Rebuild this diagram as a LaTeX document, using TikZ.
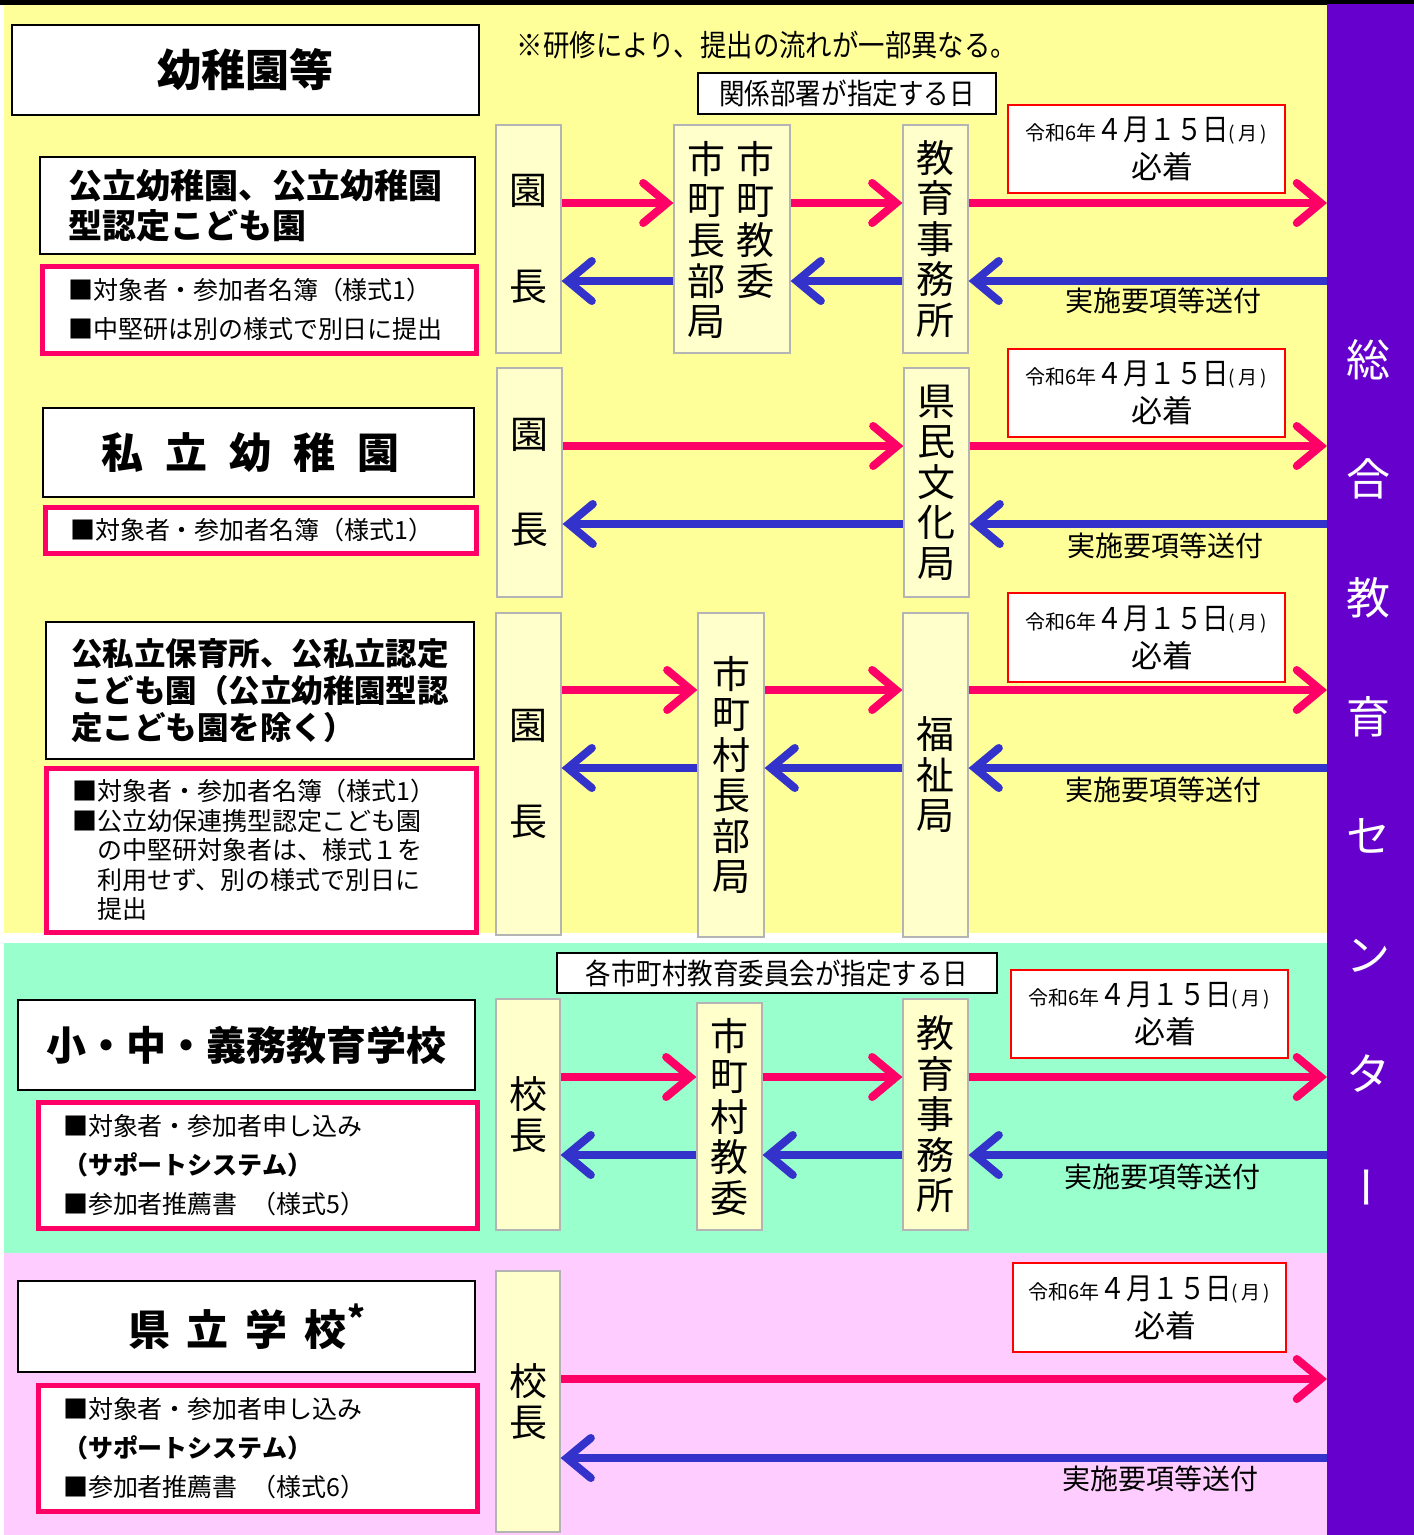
\documentclass[tikz,border=0pt]{standalone}
\usepackage{fontspec}
\usetikzlibrary{arrows.meta}
\newfontfamily\jp{Noto Sans CJK JP}
\newfontfamily\jpc[FakeStretch=0.88]{Noto Sans CJK JP}
\newcommand\fs[2]{\fontsize{#1}{#2}\selectfont}
\definecolor{ybg}{HTML}{FFFF99}
\definecolor{gbg}{HTML}{99FFCC}
\definecolor{pbg}{HTML}{FFCCFF}
\definecolor{purp}{HTML}{6600CC}
\definecolor{colfill}{HTML}{FFFFCC}
\definecolor{colline}{HTML}{B4B4B4}
\definecolor{mag}{HTML}{FF0066}
\definecolor{blu}{HTML}{3333CC}
\newcommand\datetext{{\jp\fs{20}{20}令和6年}{\jpc\fs{30}{30}４月１５日}{\jp\fs{19}{19}(\,月\,)}\\\hspace*{32pt}{\jp\fs{31}{31}必着}}
\begin{document}
\begin{tikzpicture}[x=1pt,y=-1pt,
  col/.style={draw=colline, fill=colfill, line width=1.2pt, inner sep=0pt, align=center, font=\jp\fs{38}{40.5}},
  tbox/.style={draw=black, fill=white, line width=2.5pt, inner sep=0pt},
  nbox/.style={draw=mag, fill=white, line width=5pt, inner sep=0pt, align=left, font=\jp\fs{25}{39}},
  dbox/.style={draw=red, fill=white, line width=2.2pt, inner sep=0pt, align=center, font=\jp\fs{30}{38}, minimum height=88pt},
  lbox/.style={draw=black, fill=white, line width=2.5pt, inner sep=0pt, font=\jpc\fs{29}{29}},
  redarr/.style={draw=mag, line width=8pt, -{Straight Barb[length=24pt,width=40pt,line cap=round]}},
  bluarr/.style={draw=blu, line width=8pt, -{Straight Barb[length=24pt,width=40pt,line cap=round]}},
  lab/.style={font=\jp\fs{28}{28}}
]
\useasboundingbox (0,0) rectangle (1414,1535);
% backgrounds
\fill[white] (0,0) rectangle (1414,1535);
\fill[ybg] (4,5) rectangle (1327,933);
\fill[gbg] (4,943) rectangle (1327,1253);
\fill[pbg] (4,1253) rectangle (1327,1535);
\fill[black] (0,0) rectangle (1414,5);
\node[fill=purp, minimum width=87pt, minimum height=1531pt, inner sep=0pt, outer sep=0pt] (ctr) at (1370.5,769.5) {};
\node[text=white, align=center, font=\jp\fs{44}{119}] (ctrtxt) at (1368,774) {総\\合\\教\\育\\セ\\ン\\タ\\\hspace*{12pt}\rotatebox{90}{ー}};

% row coordinates
\coordinate (r1) at (0,203); \coordinate (b1) at (0,281);
\coordinate (r2) at (0,446); \coordinate (b2) at (0,524);
\coordinate (r3) at (0,690); \coordinate (b3) at (0,768);
\coordinate (r4) at (0,1077); \coordinate (b4) at (0,1155);
\coordinate (r5) at (0,1379); \coordinate (b5) at (0,1458);

% ===== section 1 =====
\node[tbox, minimum width=467pt, minimum height=90pt, font=\jp\bfseries\fs{44}{44}] (t1) at (245.5,70) {幼稚園等};
\node[font=\jpc\fs{30}{30}] (note) at (767,45) {※研修により、提出の流れが一部異なる。};
\node[lbox, minimum width=298pt, minimum height=41pt] (kd1) at (847,93.5) {関係部署が指定する日};
\node[tbox, minimum width=435pt, minimum height=97pt, text width=379pt, align=left, font=\jp\bfseries\fs{34}{40}] (t2) at (257.5,205.5) {公立幼稚園、公立幼稚園\\型認定こども園};
\node[nbox, minimum width=434pt, minimum height=87pt, text width=382pt] (n1) at (259,309.5) {■対象者・参加者名簿（様式1）\\■中堅研は別の様式で別日に提出};
\node[col, minimum width=65pt, minimum height=228pt] (en1) at (528.5,239) {園\\[55pt]長};
\node[col, minimum width=116pt, minimum height=228pt] (sh1) at (732,239) {};
\node[font=\jp\fs{38}{40.5}, align=center, inner sep=0pt] (sh1a) at (706,240) {市\\町\\長\\部\\局};
\node[font=\jp\fs{38}{40.5}, align=center, inner sep=0pt] (sh1b) at (755,220) {市\\町\\教\\委};
\node[col, minimum width=65pt, minimum height=228pt] (kj1) at (935.5,239) {教\\育\\事\\務\\所};
\node[dbox, minimum width=277pt] (d1) at (1146.5,149) {\datetext};
\draw[redarr] (en1.east |- r1) -- (sh1.west |- r1);
\draw[redarr] (sh1.east |- r1) -- (kj1.west |- r1);
\draw[redarr] (kj1.east |- r1) -- (ctr.west |- r1);
\draw[bluarr] (sh1.west |- b1) -- (en1.east |- b1);
\draw[bluarr] (kj1.west |- b1) -- (sh1.east |- b1);
\draw[bluarr] (ctr.west |- b1) -- (kj1.east |- b1);
\node[lab] (l1) at (1163,301) {実施要項等送付};

% ===== section 2 =====
\node[tbox, minimum width=431pt, minimum height=89pt, font=\jp\bfseries\fs{42}{42}] (t3) at (258.5,452.5) {私\hspace{22pt}立\hspace{22pt}幼\hspace{22pt}稚\hspace{22pt}園\hspace*{16pt}};
\node[nbox, minimum width=431pt, minimum height=46pt, text width=381pt] (n2) at (260.5,530) {■対象者・参加者名簿（様式1）};
\node[col, minimum width=65pt, minimum height=229pt] (en2) at (529.5,482.5) {園\\[55pt]長};
\node[col, minimum width=65pt, minimum height=229pt] (kb2) at (936.5,482.5) {県\\民\\文\\化\\局};
\node[dbox, minimum width=277pt] (d2) at (1146.5,393) {\datetext};
\draw[redarr] (en2.east |- r2) -- (kb2.west |- r2);
\draw[redarr] (kb2.east |- r2) -- (ctr.west |- r2);
\draw[bluarr] (kb2.west |- b2) -- (en2.east |- b2);
\draw[bluarr] (ctr.west |- b2) -- (kb2.east |- b2);
\node[lab] (l2) at (1165,546) {実施要項等送付};

% ===== section 3 =====
\node[tbox, minimum width=428pt, minimum height=137pt, text width=378pt, align=left, font=\jp\bfseries\fs{31.5}{37}] (t4) at (260,690.5) {公私立保育所、公私立認定\\こども園（公立幼稚園型認\\定こども園を除く）};
\node[nbox, minimum width=430pt, minimum height=164pt, text width=378pt, font=\jp\fs{25}{29.5}] (n3) at (261,850) {■対象者・参加者名簿（様式1）\\■公立幼保連携型認定こども園\\\hspace*{25pt}の中堅研対象者は、様式１を\\\hspace*{25pt}利用せず、別の様式で別日に\\\hspace*{25pt}提出};
\node[col, minimum width=65pt, minimum height=322pt] (en3) at (528.5,774) {園\\[55pt]長};
\node[col, minimum width=66pt, minimum height=324pt] (sc3) at (731,775) {市\\町\\村\\長\\部\\局};
\node[col, minimum width=65pt, minimum height=324pt] (fk3) at (935.5,775) {福\\祉\\局};
\node[dbox, minimum width=277pt, minimum height=89pt] (d3) at (1146.5,637.5) {\datetext};
\draw[redarr] (en3.east |- r3) -- (sc3.west |- r3);
\draw[redarr] (sc3.east |- r3) -- (fk3.west |- r3);
\draw[redarr] (fk3.east |- r3) -- (ctr.west |- r3);
\draw[bluarr] (sc3.west |- b3) -- (en3.east |- b3);
\draw[bluarr] (fk3.west |- b3) -- (sc3.east |- b3);
\draw[bluarr] (ctr.west |- b3) -- (fk3.east |- b3);
\node[lab] (l3) at (1163,790) {実施要項等送付};

% ===== section 4 =====
\node[lbox, minimum width=440pt, minimum height=40pt] (kd4) at (777,973) {各市町村教育委員会が指定する日};
\node[tbox, minimum width=457pt, minimum height=90pt, font=\jp\bfseries\fs{40}{40}] (t5) at (246.5,1045) {小・中・義務教育学校};
\node[nbox, minimum width=439pt, minimum height=126pt, text width=389pt] (n4) at (257.5,1165) {■対象者・参加者申し込み\\{\bfseries（サポートシステム）}\\■参加者推薦書\hspace{14pt}（様式5）};
\node[col, minimum width=64pt, minimum height=231pt] (ko4) at (528,1114.5) {校\\長};
\node[col, minimum width=65pt, minimum height=227pt] (sk4) at (729.5,1116.5) {市\\町\\村\\教\\委};
\node[col, minimum width=65pt, minimum height=231pt] (kj4) at (935.5,1114.5) {教\\育\\事\\務\\所};
\node[dbox, minimum width=277pt] (d4) at (1149.5,1014) {\datetext};
\draw[redarr] (ko4.east |- r4) -- (sk4.west |- r4);
\draw[redarr] (sk4.east |- r4) -- (kj4.west |- r4);
\draw[redarr] (kj4.east |- r4) -- (ctr.west |- r4);
\draw[bluarr] (sk4.west |- b4) -- (ko4.east |- b4);
\draw[bluarr] (kj4.west |- b4) -- (sk4.east |- b4);
\draw[bluarr] (ctr.west |- b4) -- (kj4.east |- b4);
\node[lab] (l4) at (1162,1177) {実施要項等送付};

% ===== section 5 =====
\node[tbox, minimum width=457pt, minimum height=91pt, font=\jp\bfseries\fs{42}{42}] (t6) at (246.5,1326.5) {県\hspace{17pt}立\hspace{17pt}学\hspace{17pt}校\raisebox{14pt}{\fs{34}{34}*}};
\node[nbox, minimum width=439pt, minimum height=126pt, text width=389pt] (n5) at (257.5,1448) {■対象者・参加者申し込み\\{\bfseries（サポートシステム）}\\■参加者推薦書\hspace{14pt}（様式6）};
\node[col, minimum width=64pt, minimum height=261pt] (ko5) at (528,1401.5) {校\\長};
\node[dbox, minimum width=273pt, minimum height=89pt] (d5) at (1149.5,1307.5) {\datetext};
\draw[redarr] (ko5.east |- r5) -- (ctr.west |- r5);
\draw[bluarr] (ctr.west |- b5) -- (ko5.east |- b5);
\node[lab] (l5) at (1160,1479) {実施要項等送付};
\end{tikzpicture}
\end{document}
